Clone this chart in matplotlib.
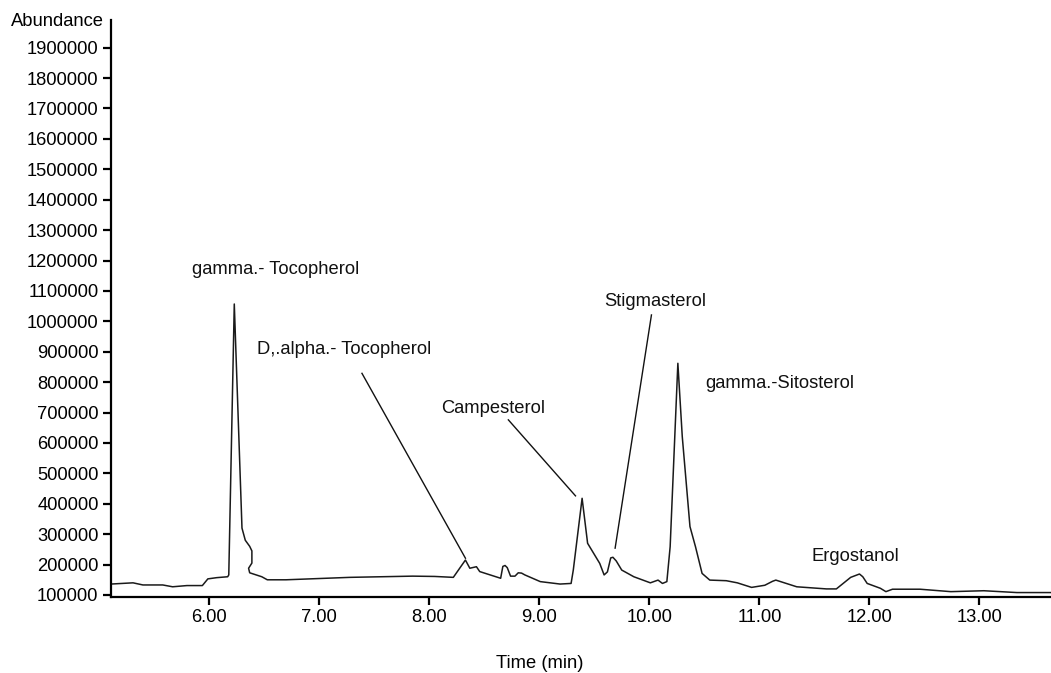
import matplotlib.pyplot as plt

plt.rcParams['font.family'] = ['Liberation Sans', 'DejaVu Sans']

# chromatogram trace (retention time in min, abundance)
rt = [5.11, 5.31, 5.40, 5.58, 5.67, 5.80, 5.94, 5.99, 6.07, 6.17, 6.18,
      6.23, 6.30, 6.33, 6.37, 6.39, 6.39, 6.36, 6.37, 6.48, 6.53, 6.70,
      7.28, 7.85, 8.05, 8.22, 8.33, 8.37, 8.43, 8.46, 8.65, 8.67, 8.69, 8.71,
      8.74, 8.78, 8.81, 8.84, 8.87, 9.01, 9.19, 9.29, 9.31, 9.39, 9.44, 9.55,
      9.59, 9.62, 9.65, 9.67, 9.70, 9.75, 9.86, 9.98, 10.01, 10.08, 10.12,
      10.16, 10.19, 10.26, 10.30, 10.37, 10.42, 10.48, 10.55, 10.70,
      10.80, 10.93, 11.05, 11.12, 11.15, 11.34, 11.61, 11.70, 11.83, 11.91,
      11.94, 11.98, 12.10, 12.15, 12.21, 12.46, 12.74, 13.04, 13.34, 13.65]
abundance = [136000, 140000, 133000, 133000, 127000, 131000, 131000, 153000,
             157000, 160000, 166000,
             1057000, 320000, 280000, 260000, 245000, 205000, 188000, 173000,
             160000, 150000, 150000,
             158000, 162000, 161000, 158000, 215000, 188000, 193000, 177000,
             155000, 194000, 197000, 190000,
             162000, 162000, 173000, 172000, 166000, 144000, 136000, 138000,
             182000, 418000, 270000, 204000,
             166000, 176000, 222000, 224000, 212000, 182000, 160000, 144000,
             140000, 149000, 138000,
             144000, 259000, 862000, 621000, 325000, 259000, 171000, 149000,
             147000,
             140000, 125000, 132000, 145000, 149000, 127000, 120000, 120000,
             158000, 169000,
             160000, 138000, 122000, 111000, 119000, 119000, 111000, 114000,
             108000, 108000]

# peak labels
labels = ["gamma.- Tocopherol", "D,.alpha.- Tocopherol", "Campesterol",
          "Stigmasterol", "gamma.-Sitosterol", "Ergostanol"]
label_xy = [(5.85, 1169000), (6.44, 906000), (8.58, 714000),
            (10.05, 1065000), (10.51, 794000), (11.87, 226000)]
label_ha = ["left", "left", "center", "center", "left", "center"]
# leader lines: (x0, y0, x1, y1)
leaders = [None, (7.39, 829000, 8.33, 221000), (8.72, 676000, 9.33, 426000),
           (10.02, 1021000, 9.69, 254000), None, None]

fig = plt.figure(figsize=(10.51, 6.73), dpi=100)
ax = fig.add_axes([111 / 1051, 1 - 597 / 673, 1 - 111 / 1051, (597 - 20) / 673])

ax.plot(rt, abundance, color='#1a1a1a', lw=1.1)

for lab, (x, y), ha, ld in zip(labels, label_xy, label_ha, leaders):
    ax.text(x, y, lab, ha=ha, va='center', fontsize=13.2, color='#111111')
    if ld is not None:
        ax.plot([ld[0], ld[2]], [ld[1], ld[3]], color='#111111', lw=1.0)

ax.set_xlim(5.11, 13.65)
ax.set_ylim(93400, 1991000)
ax.set_xticks(range(6, 14))
ax.set_xticklabels([f"{v:.2f}" for v in range(6, 14)])
ax.set_yticks(range(100000, 2000000, 100000))
ax.set_yticklabels([str(v) for v in range(100000, 2000000, 100000)])

for s in ['top', 'right']:
    ax.spines[s].set_visible(False)
for s in ['left', 'bottom']:
    ax.spines[s].set_linewidth(1.6)
ax.tick_params(direction='out', length=6, width=1.6, labelsize=13.2, pad=3)

fig.text(104 / 1051, 1 - 22 / 673, "Abundance", ha='right', va='center', fontsize=13.2)
fig.text(540 / 1051, 1 - 663 / 673, "Time (min)", ha='center', va='center', fontsize=13.2)

fig.savefig("out.png", dpi=100)
